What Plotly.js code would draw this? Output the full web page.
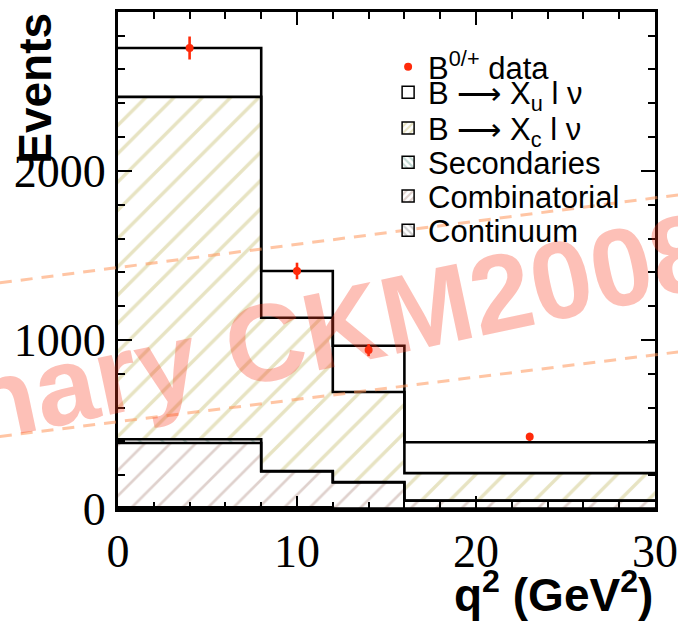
<!DOCTYPE html>
<html>
<head>
<meta charset="utf-8">
<script src="https://cdn.plot.ly/plotly-3.0.1.min.js"></script>
<style>
  html, body { margin: 0; padding: 0; background: #ffffff; }
  #chart { width: 678px; height: 623px; }
</style>
</head>
<body>
<div id="chart"></div>
<script>
// q^2 bin edges (GeV^2)
const binEdges = [0, 8, 12, 16, 30];

// Expected yields per bin for each component, bottom of the stack first
const continuum     = [10, 10, 3, 2];
const combinatorial = [380, 212, 154, 47];
const secondaries   = [23, 3, 3, 1];
const xclnu         = [2025, 906, 532, 162];
const xulnu         = [289, 277, 274, 183];

// Measured B0/+ yields
const dataQ2  = [4, 10, 14, 23];
const dataY   = [2727, 1408, 940, 427];
const dataErr = [68, 49, 36, 24];

// Legend / component labels
const labelData = 'B<sup>0/+</sup> data';
const labelXu   = 'B \u27f6 X<sub>u</sub> l \u03bd';
const labelXc   = 'B \u27f6 X<sub>c</sub> l \u03bd';
const labelSec  = 'Secondaries';
const labelComb = 'Combinatorial';
const labelCont = 'Continuum';

const xTickVals = [0, 10, 20, 30];
const yTickVals = [0, 1000, 2000];

// ---------------------------------------------------------------------
const centers = binEdges.slice(0, -1).map((e, i) => (e + binEdges[i + 1]) / 2);
const widths  = binEdges.slice(0, -1).map((e, i) => binEdges[i + 1] - e);

const components = [
  { name: labelCont, vals: continuum,     pattern: { shape: '\\', fgcolor: '#9d9d9d', size: 16, solidity: 0.15 } },
  { name: labelComb, vals: combinatorial, pattern: { shape: '/',  fgcolor: '#bfa49b', size: 18, solidity: 0.15 } },
  { name: labelSec,  vals: secondaries,   pattern: { shape: '\\', fgcolor: '#86b3a8', size: 16, solidity: 0.15 } },
  { name: labelXc,   vals: xclnu,         pattern: { shape: '/',  fgcolor: '#d0c885', size: 20, solidity: 0.17 } },
  { name: labelXu,   vals: xulnu,         pattern: null }
];

const traces = [];
let running = binEdges.slice(0, -1).map(() => 0);
const stackTops = [];

components.forEach(c => {
  // hatched fill of this component, sitting on top of the ones below it
  const marker = { color: '#ffffff', line: { width: 0 } };
  if (c.pattern) {
    marker.pattern = Object.assign({ bgcolor: '#ffffff', fillmode: 'overlay' }, c.pattern);
  }
  traces.push({
    type: 'bar', x: centers, y: c.vals, base: running.slice(), width: widths,
    marker: marker, showlegend: false, hoverinfo: 'skip'
  });
  running = running.map((r, i) => r + c.vals[i]);
  stackTops.push(running.slice());
});

// histogram outlines: stepped line along the top of every stack level
stackTops.forEach(tops => {
  traces.push({
    type: 'scatter', mode: 'lines',
    x: binEdges, y: tops.concat([tops[tops.length - 1]]),
    line: { shape: 'hv', color: '#000000', width: 2.6 },
    showlegend: false, hoverinfo: 'skip'
  });
});

// data points with statistical errors
traces.push({
  type: 'scatter', mode: 'markers', name: labelData, legend: 'legend',
  x: dataQ2, y: dataY,
  marker: { color: '#ff2a0a', size: 8 },
  error_y: { type: 'data', array: dataErr, color: '#ff2a0a', thickness: 2.6, width: 0 }
});

// legend entries: framed, hatched boxes (zero-height bars, one legend per row)
const legendOrder = [components[4], components[3], components[2], components[1], components[0]];
legendOrder.forEach((c, k) => {
  const marker = { color: '#ffffff', line: { color: '#000000', width: 1.5 } };
  if (c.pattern) {
    marker.pattern = Object.assign({ bgcolor: '#ffffff', fillmode: 'overlay' }, c.pattern, { size: 6, solidity: 0.45 });
  }
  traces.push({
    type: 'bar', x: centers, y: centers.map(() => 0), base: 0, width: widths,
    name: c.name, marker: marker, hoverinfo: 'skip', legend: 'legend' + (k + 2)
  });
});

const legendFont = { family: 'Liberation Sans, Arial, sans-serif', size: 31, color: '#000000' };
const rowY = [0.889, 0.838, 0.766, 0.697, 0.629, 0.560];
function legendBox(yc) {
  return {
    x: 0.503, y: yc, xanchor: 'left', yanchor: 'middle',
    bgcolor: 'rgba(0,0,0,0)', borderwidth: 0, font: legendFont, itemwidth: 30
  };
}

const layout = {
  width: 678, height: 623,
  margin: { l: 118, r: 23, t: 12, b: 114 },
  paper_bgcolor: '#ffffff', plot_bgcolor: '#ffffff',
  barmode: 'overlay', bargap: 0,
  showlegend: true,
  legend: legendBox(rowY[0]),
  legend2: legendBox(rowY[1]),
  legend3: legendBox(rowY[2]),
  legend4: legendBox(rowY[3]),
  legend5: legendBox(rowY[4]),
  legend6: legendBox(rowY[5]),
  xaxis: {
    range: [0, 30], tickvals: xTickVals, ticktext: xTickVals.map(String),
    ticks: 'inside', ticklen: 13, tickwidth: 2, tickcolor: '#000000',
    minor: { dtick: 2, ticks: 'inside', ticklen: 7, tickwidth: 2, tickcolor: '#000000' },
    showline: true, linewidth: 3, linecolor: '#000000', mirror: 'allticks',
    showgrid: false, zeroline: false,
    tickfont: { family: 'Liberation Serif, Times New Roman, serif', size: 46, color: '#000000' }
  },
  yaxis: {
    range: [0, 2940], tickvals: yTickVals, ticktext: yTickVals.map(String),
    ticks: 'inside', ticklen: 14, tickwidth: 2, tickcolor: '#000000',
    minor: { dtick: 200, ticks: 'inside', ticklen: 7, tickwidth: 2, tickcolor: '#000000' },
    showline: true, linewidth: 3, linecolor: '#000000', mirror: 'allticks',
    showgrid: false, zeroline: false,
    tickfont: { family: 'Liberation Serif, Times New Roman, serif', size: 46, color: '#000000' }
  },
  shapes: [
    { type: 'line', xref: 'paper', yref: 'paper', x0: -0.22, x1: 1.043, y0: 0.455, y1: 0.632,
      line: { color: 'rgba(255,150,90,0.55)', width: 3, dash: '12px,9px' }, layer: 'above' },
    { type: 'line', xref: 'paper', yref: 'paper', x0: -0.22, x1: 1.043, y0: 0.146, y1: 0.316,
      line: { color: 'rgba(255,150,90,0.55)', width: 3, dash: '12px,9px' }, layer: 'above' }
  ],
  annotations: [
    { text: 'Preliminary CKM2008', xref: 'paper', yref: 'paper', x: 0.08, y: 0.29,
      xanchor: 'center', yanchor: 'middle', textangle: -12, showarrow: false,
      font: { family: 'Liberation Sans, Arial, sans-serif', size: 110, weight: 'bold', color: 'rgba(250,60,30,0.32)' } },
    { text: 'Events', xref: 'paper', yref: 'paper', x: -0.155, y: 0.847,
      xanchor: 'center', yanchor: 'middle', textangle: -90, showarrow: false,
      font: { family: 'Liberation Sans, Arial, sans-serif', size: 46, weight: 'bold', color: '#000000' } },
    { text: 'q<sup>2</sup> (GeV<sup>2</sup>)', xref: 'paper', yref: 'paper', x: 1.0, y: -0.166,
      xanchor: 'right', yanchor: 'middle', showarrow: false,
      font: { family: 'Liberation Sans, Arial, sans-serif', size: 46, weight: 'bold', color: '#000000' } }
  ]
};

Plotly.newPlot('chart', traces, layout, { staticPlot: true, displayModeBar: false });
</script>
</body>
</html>
